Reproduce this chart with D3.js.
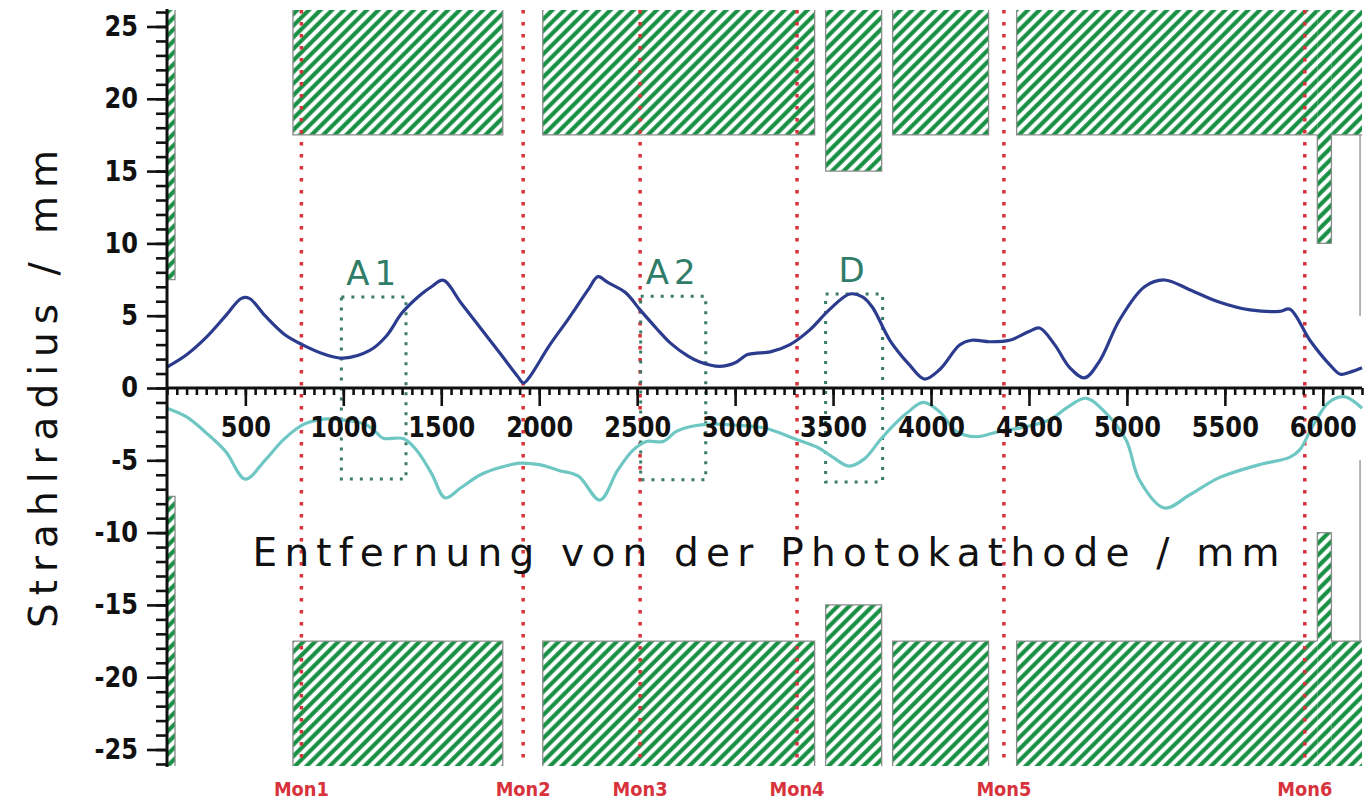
<!DOCTYPE html>
<html><head><meta charset="utf-8">
<script src="https://cdn.jsdelivr.net/npm/d3@7"></script>
<style>body{margin:0;background:#fff}</style>
</head><body>
<svg id="c" width="1364" height="800"></svg>
<script>
// ---------------- data ----------------
// beam envelope, upper (x in mm, radius in mm)
const upperBeam = [
 [100,1.45],[200,2.3],[300,3.5],[400,5.0],[480,6.2],[520,6.2],[600,5.0],[700,3.7],[790,3.0],[900,2.35],
 [1000,2.07],[1135,2.6],[1220,3.6],[1300,5.2],[1390,6.4],[1450,7.0],[1510,7.45],[1600,5.9],[1700,4.15],[1800,2.4],
 [1890,0.8],[1920,0.35],[1950,0.75],[2050,2.9],[2150,4.8],[2250,6.8],[2300,7.7],[2350,7.3],[2440,6.6],
 [2515,5.4],[2600,4.1],[2670,3.1],[2760,2.2],[2820,1.8],[2920,1.5],[3000,1.75],[3060,2.3],[3100,2.4],
 [3180,2.5],[3280,3.0],[3380,4.0],[3480,5.4],[3585,6.5],[3650,6.3],[3700,5.6],[3790,3.3],[3890,1.6],
 [3967,0.62],[4046,1.3],[4146,2.97],[4207,3.3],[4299,3.2],[4401,3.3],[4500,3.9],[4554,4.15],[4631,3.0],
 [4709,1.4],[4784,0.7],[4862,1.9],[4962,4.7],[5090,7.0],[5192,7.47],[5320,6.8],[5470,5.95],[5628,5.4],
 [5780,5.3],[5832,5.45],[5934,3.3],[6036,1.6],[6090,0.95],[6140,1.1],[6200,1.4]
];
// beam envelope, lower
const lowerBeam = [
 [100,-1.4],[200,-2.0],[300,-3.1],[400,-4.4],[500,-6.3],[600,-5.0],[700,-3.5],[800,-2.5],[900,-2.15],
 [960,-2.17],[1050,-2.3],[1120,-2.56],[1170,-3.1],[1204,-3.48],[1306,-3.5],[1374,-4.3],[1450,-5.9],
 [1520,-7.6],[1600,-6.9],[1700,-6.0],[1800,-5.5],[1900,-5.2],[2000,-5.3],[2100,-5.7],[2200,-6.1],
 [2310,-7.75],[2400,-5.7],[2479,-4.3],[2547,-3.7],[2632,-3.7],[2700,-3.0],[2768,-2.68],[2900,-2.5],
 [2990,-2.56],[3160,-2.8],[3300,-3.5],[3420,-4.1],[3500,-4.8],[3580,-5.4],[3660,-4.9],[3740,-3.6],
 [3800,-2.7],[3880,-1.7],[3959,-1.0],[4044,-1.64],[4129,-3.0],[4231,-3.37],[4350,-3.0],[4486,-2.68],
 [4605,-2.2],[4700,-1.3],[4792,-0.71],[4894,-1.75],[4996,-3.6],[5064,-6.36],[5192,-8.3],[5319,-7.4],
 [5472,-6.2],[5677,-5.3],[5830,-4.8],[5881,-4.3],[5950,-2.6],[6030,-1.0],[6110,-0.6],[6200,-1.4]
];
// beam pipe apertures (hatched)
const apStart  = [100, 743, 2018, 3462, 3804, 4437, 5972, 6044];
const apEnd    = [141, 1814, 3406, 3748, 4294, 5972, 6044, 6200];
const apRadius = [7.5, 17.5, 17.5, 15, 17.5, 17.5, 10, 17.5];
// open flange outline at the end
const flangeX = 6190, flangeR = 5, flangeOuterR = 17.5;
// monitors
const monNames = ["Mon1","Mon2","Mon3","Mon4","Mon5","Mon6"];
const monX     = [786, 1918, 2515, 3316, 4372, 5908];
// dotted boxes
const boxNames = ["A1","A2","D"];
const boxStart = [990, 2518, 3462];
const boxEnd   = [1320, 2850, 3753];
const boxR     = [6.3, 6.35, 6.5];
// ticks
const xMajorTicks = d3.range(500, 6001, 500);
const xMinorTicks = d3.range(100, 6201, 50);
const yMajorTicks = d3.range(-25, 26, 5);
const yMinorTicks = d3.range(-26, 27, 1);

// ---------------- chart ----------------
const svg = d3.select('#c');
const x = d3.scaleLinear().domain([100, 6200]).range([167, 1362]);
const y = d3.scaleLinear().domain([-26.14, 26.14]).range([766, 10]);
const yTop = y(26.14), yBot = y(-26.14);
const green = '#178f43';

const defs = svg.append('defs');
const P = 8.2;
const pat = defs.append('pattern').attr('id','hatch').attr('patternUnits','userSpaceOnUse')
  .attr('width',P).attr('height',P).attr('patternTransform','rotate(45)');
pat.append('rect').attr('width',P).attr('height',P).attr('fill','#fff');
pat.append('line').attr('x1',P/2).attr('x2',P/2).attr('y1',-1).attr('y2',P+1)
  .attr('stroke',green).attr('stroke-width',4.1);

const aps = apStart.map((s,i)=>({x0:s, x1:apEnd[i], r:apRadius[i]}));
const gAp = svg.append('g');
[1,-1].forEach(sign=>{
  gAp.selectAll(null).data(aps).enter().append('rect')
    .attr('x', d=>x(d.x0)).attr('width', d=>x(d.x1)-x(d.x0))
    .attr('y', d=> sign>0 ? yTop : y(-d.r))
    .attr('height', d=> sign>0 ? y(d.r)-yTop : yBot - y(-d.r))
    .attr('fill','url(#hatch)');
  let p = '';
  const edge = sign>0 ? yTop : yBot;
  aps.forEach((a,i)=>{
    const prev = aps[i-1], next = aps[i+1];
    const start = (prev && prev.x1===a.x0) ? y(sign*prev.r) : edge;
    if (a.x0 > 100) p += `M${x(a.x0)},${start}V${y(sign*a.r)}`;
    else p += `M${x(a.x0)},${y(sign*a.r)}`;
    p += `H${x(a.x1)}`;
    if (!(next && next.x0===a.x1) && a.x1 < 6200) p += `V${edge}`;
  });
  p += `M${x(flangeX)},${y(sign*flangeOuterR)}V${y(sign*flangeR)}`;
  gAp.append('path').attr('d',p).attr('fill','none').attr('stroke','#8c8c8c').attr('stroke-width',1.3);
});

// monitor lines
svg.append('g').selectAll(null).data(monX).enter().append('line')
  .attr('x1',d=>x(d)).attr('x2',d=>x(d)).attr('y1',yTop).attr('y2',yBot)
  .attr('stroke','#d8323c').attr('stroke-width',3.5).attr('stroke-dasharray','3.5,8.5');
svg.append('g').selectAll(null).data(monNames).enter().append('text')
  .attr('x',(d,i)=>x(monX[i])).attr('y',796).attr('text-anchor','middle')
  .attr('font-family','"DejaVu Sans",sans-serif').attr('font-weight','bold')
  .attr('font-size',19).attr('fill','#d8323c')
  .attr('textLength',55).attr('lengthAdjust','spacingAndGlyphs').text(d=>d);

// dotted boxes
const gB = svg.append('g');
gB.selectAll(null).data(boxNames).enter().append('rect')
  .attr('x',(d,i)=>x(boxStart[i])).attr('width',(d,i)=>x(boxEnd[i])-x(boxStart[i]))
  .attr('y',(d,i)=>y(boxR[i])).attr('height',(d,i)=>y(-boxR[i])-y(boxR[i]))
  .attr('fill','none').attr('stroke','#3b7a66').attr('stroke-width',3).attr('stroke-dasharray','3,7');
gB.selectAll(null).data(boxNames).enter().append('text')
  .attr('x',(d,i)=>(x(boxStart[i])+x(boxEnd[i]))/2).attr('y',(d,i)=>y(boxR[i])-12)
  .attr('text-anchor','middle').attr('font-family','"DejaVu Sans",sans-serif')
  .attr('font-size',34).attr('letter-spacing',5).attr('fill','#2f7d68').text(d=>d);

// curves
const line = d3.line().x(d=>x(d[0])).y(d=>y(d[1])).curve(d3.curveCatmullRom.alpha(0.5));
svg.append('path').datum(lowerBeam).attr('d',line).attr('fill','none').attr('stroke','#6fc7c4').attr('stroke-width',3.2);
svg.append('path').datum(upperBeam).attr('d',line).attr('fill','none').attr('stroke','#2b3b8e').attr('stroke-width',3.2);

// axes
const fmt = d => (d<0?'-':'') + Math.abs(d);
const SX = 0.86;
const gx = svg.append('g').attr('transform',`translate(0,${y(0)})`);
gx.call(d3.axisBottom(x).tickValues(xMinorTicks).tickSize(7).tickFormat(''));
const gxMaj = gx.append('g').call(d3.axisBottom(x).tickValues(xMajorTicks).tickSize(18).tickPadding(11).tickFormat(fmt));
gx.selectAll('.domain').remove();
const gy = svg.append('g').attr('transform',`translate(${x(100)},0)`);
gy.call(d3.axisLeft(y).tickValues(yMinorTicks).tickSize(11).tickFormat(''));
const gyMaj = gy.append('g').call(d3.axisLeft(y).tickValues(yMajorTicks).tickSize(20).tickPadding(9).tickFormat(fmt));
gy.selectAll('.domain').remove();
svg.selectAll('.tick line').attr('stroke','#111').attr('stroke-width',2.6);
svg.selectAll('.tick text').attr('font-family','"DejaVu Sans",sans-serif').attr('font-weight','bold')
  .attr('font-size',28).attr('fill','#111').attr('transform',`scale(${SX},1)`);
gyMaj.selectAll('.tick text').attr('x', -29/SX);
svg.append('line').attr('x1',x(100)).attr('x2',x(6200)).attr('y1',y(0)).attr('y2',y(0)).attr('stroke','#111').attr('stroke-width',3);
svg.append('line').attr('x1',x(100)).attr('x2',x(100)).attr('y1',yTop-1).attr('y2',yBot+1).attr('stroke','#111').attr('stroke-width',3);

// titles
svg.append('text').attr('x',766).attr('y',566).attr('text-anchor','middle')
  .attr('font-family','"DejaVu Sans",sans-serif').attr('font-size',39).attr('fill','#111')
  .attr('textLength',1027).attr('lengthAdjust','spacing')
  .text('Entfernung von der Photokathode / mm');
svg.append('text').attr('transform','translate(57,389) rotate(-90)').attr('text-anchor','middle')
  .attr('font-family','"DejaVu Sans",sans-serif').attr('font-size',39).attr('fill','#111')
  .attr('textLength',478).attr('lengthAdjust','spacing')
  .text('Strahlradius / mm');
</script>
</body></html>
